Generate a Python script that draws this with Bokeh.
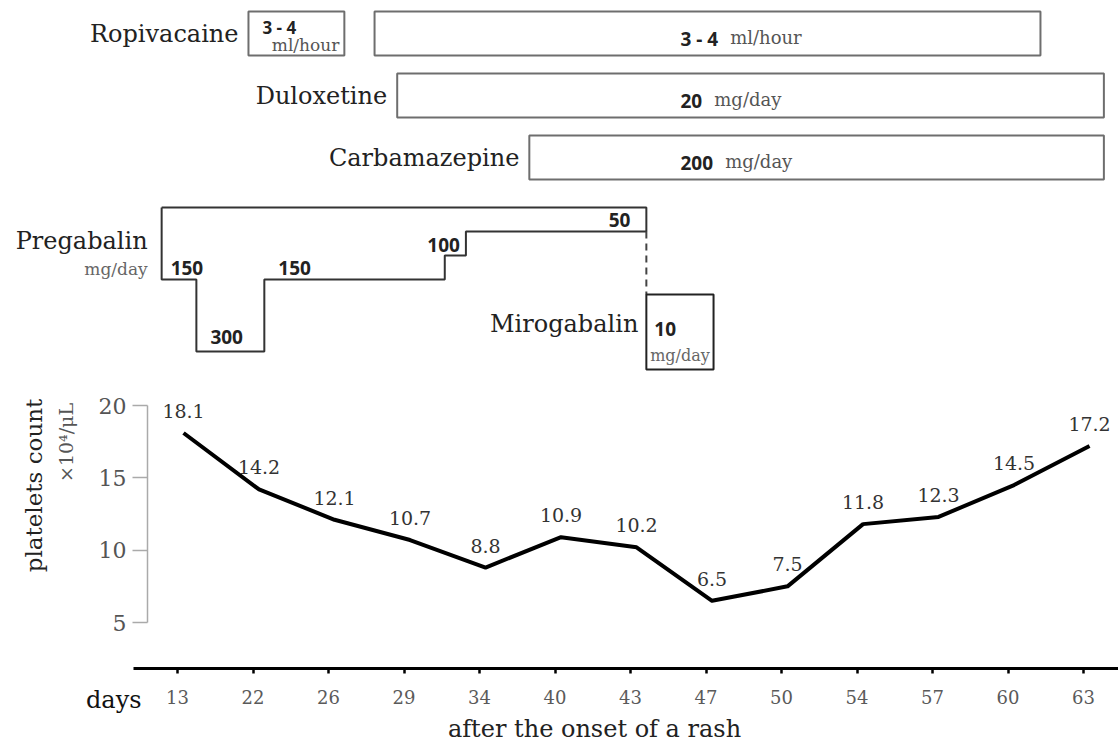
import math
from bokeh.plotting import figure
from bokeh.models import Range1d, FixedTicker, Label, LinearAxis, Grid
from bokeh.core.properties import value
from bokeh.embed import file_html
from bokeh.resources import INLINE

# ------------------------------------------------------------------ data
days = [13, 22, 26, 29, 34, 40, 43, 47, 50, 54, 57, 60, 63]
platelets = [18.1, 14.2, 12.1, 10.7, 8.8, 10.9, 10.2, 6.5, 7.5, 11.8, 12.3, 14.5, 17.2]
y_ticks = [5, 10, 15, 20]

# treatment periods, expressed in positions along the day axis (slot units)
ropivacaine_start = [0.94, 2.61]
ropivacaine_end = [2.21, 11.43]
ropivacaine_dose = "3 - 4"
ropivacaine_unit = "ml/hour"

duloxetine_start = [2.91]
duloxetine_end = [12.27]
duloxetine_dose = "20"
duloxetine_unit = "mg/day"

carbamazepine_start = [4.66]
carbamazepine_end = [12.27]
carbamazepine_dose = "200"
carbamazepine_unit = "mg/day"

pregabalin_start = [-0.21, 0.25, 1.15, 3.54, 3.82]
pregabalin_end = [0.25, 1.15, 3.54, 3.82, 6.21]
pregabalin_dose = [150, 300, 150, 100, 50]

mirogabalin_start = [6.21]
mirogabalin_end = [7.10]
mirogabalin_dose = "10"

# ------------------------------------------------------------------ layout helpers
W, H = 1118, 747
AXIS_X_PX, AXIS_Y_PX, AXIS_X0_PX = 147, 668, 133
SLOT_PX = 75.5      # px per day slot
SLOT0_PX = 177      # px of first slot
UNIT_PX = 14.467    # px per platelet unit
Y20_PX = 405
ROW_PX = 62.0
ROW0_PX = 33

def xd(px):
    return (px - SLOT0_PX) / SLOT_PX

def xp(x):
    return SLOT0_PX + SLOT_PX * x

def yd(py):
    return 20 - (py - Y20_PX) / UNIT_PX

def rd(py):
    return (py - ROW0_PX) / ROW_PX

def rp(r):
    return ROW0_PX + ROW_PX * r

SERIF = "DejaVu Serif"
SANS = "Open Sans"

p = figure(width=W, height=H, output_backend="svg", toolbar_location=None,
           x_range=Range1d(xd(0), xd(W)), y_range=Range1d(yd(H), yd(0)),
           x_axis_location=None, y_axis_location=None,
           min_border_left=0, min_border_right=0, min_border_top=0,
           min_border_bottom=0, outline_line_color=None)
p.extra_y_ranges = {"sched": Range1d(start=rd(H), end=rd(0))}
p.center = [r for r in p.center if not isinstance(r, Grid)]


def clabel(px, py, text, size, color, align="left", angle=0.0, font=SERIF, style="normal"):
    p.add_layout(Label(x=px, y=py, x_units="canvas", y_units="canvas", text=text,
                       angle=angle, text_align=align, text_baseline="middle",
                       text_font=font, text_font_style=style, text_font_size=size,
                       text_color=color))

# x axis (drawn at a fixed position inside the plotting area)
xa = LinearAxis(fixed_location=yd(AXIS_Y_PX), bounds=(xd(AXIS_X0_PX), xd(W)))
xa.ticker = FixedTicker(ticks=list(range(len(days))))
xa.major_label_overrides = {i: str(d) for i, d in enumerate(days)}
xa.minor_tick_line_color = None
xa.axis_line_width = 3
xa.axis_line_color = "black"
xa.major_tick_line_width = 2.5
xa.major_tick_line_color = "black"
xa.major_tick_out = 5
xa.major_tick_in = 0
xa.major_label_text_font = SERIF
xa.major_label_text_font_size = "18px"
xa.major_label_text_color = "#5a5a5a"
xa.major_label_standoff = 16
p.add_layout(xa, "below")

# y axis
ya = LinearAxis(fixed_location=xd(AXIS_X_PX), bounds=(5, 20))
ya.ticker = FixedTicker(ticks=y_ticks)
ya.axis_line_color = "#aaaaaa"
ya.axis_line_width = 1.5
ya.major_tick_line_color = "#aaaaaa"
ya.major_tick_line_width = 1.5
ya.major_tick_out = 15
ya.major_tick_in = 0
ya.minor_tick_line_color = None
ya.major_label_text_font = SERIF
ya.major_label_text_font_size = "22px"
ya.major_label_text_color = "#555555"
ya.major_label_standoff = 6
p.add_layout(ya, "left")

clabel(33, 485, "platelets count", "23px", "#222222", align="center", angle=math.pi / 2)
clabel(65, 442, "\u00d710\u2074/\u03bcL", "19px", "#555555", align="center", angle=math.pi / 2)
clabel(141, 699, "days", "24px", "#111111", align="right")
clabel(594, 728, "after the onset of a rash", "24px", "#222222", align="center")

# ------------------------------------------------------------------ platelet line
xs = [i + 0.08 for i in range(len(days))]
p.line(xs, platelets, line_width=4, line_color="black", line_join="round")
p.text(xs, platelets, text=[str(v) for v in platelets], text_align="center",
       text_baseline="middle", y_offset=-22, text_font=value(SERIF),
       text_font_size="19px", text_color="#333333")

# ------------------------------------------------------------------ drug boxes
BOX_H = 0.355
DOSE_TEXT_X = xd(680)

def num_width(txt):
    return sum(10.9 if c.isdigit() else (4.9 if c == " " else 6.1) for c in txt)

bars = [
    ("Ropivacaine", ropivacaine_start, ropivacaine_end, 0, ropivacaine_dose, ropivacaine_unit),
    ("Duloxetine", duloxetine_start, duloxetine_end, 1, duloxetine_dose, duloxetine_unit),
    ("Carbamazepine", carbamazepine_start, carbamazepine_end, 2, carbamazepine_dose, carbamazepine_unit),
]
for name, st, en, row, dose, unit in bars:
    n = len(st)
    p.quad(left=st, right=en, top=[row - BOX_H] * n, bottom=[row + BOX_H] * n,
           y_range_name="sched", fill_color=None, line_color="#6e6e6e", line_width=2)
    clabel(xp(st[0]) - 10, rp(row), name, "24px", "#222222", align="right")
    p.text([DOSE_TEXT_X], [row], text=[dose], y_range_name="sched", y_offset=5,
           text_align="left", text_baseline="middle", text_font=value(SANS),
           text_font_style="bold", text_font_size="19px", text_color="#222222")
    p.text([DOSE_TEXT_X], [row], text=[unit], y_range_name="sched", y_offset=4,
           x_offset=num_width(dose) + 12, text_align="left", text_baseline="middle",
           text_font=value(SERIF), text_font_size="18px", text_color="#555555")
    if n > 1:
        # first short box with stacked label
        p.text([st[0]], [row], text=[dose], y_range_name="sched", x_offset=14, y_offset=-6,
               text_align="left", text_baseline="middle", text_font=value(SANS),
               text_font_style="bold", text_font_size="17px", text_color="#222222")
        p.text([en[0]], [row], text=[unit], y_range_name="sched", x_offset=-5, y_offset=11,
               text_align="right", text_baseline="middle", text_font=value(SERIF),
               text_font_size="17px", text_color="#555555")

# ------------------------------------------------------------------ pregabalin steps
PREG_TOP = rd(207)
DOSE_SCALE = 0.48 / ROW_PX   # rows per mg

def depth(d):
    return PREG_TOP + d * DOSE_SCALE

px_ = [pregabalin_start[0], pregabalin_end[-1]]
py_ = [PREG_TOP, PREG_TOP]
for s, e, d in reversed(list(zip(pregabalin_start, pregabalin_end, pregabalin_dose))):
    px_ += [e, s]
    py_ += [depth(d), depth(d)]
px_.append(pregabalin_start[0])
py_.append(PREG_TOP)
p.line(px_, py_, y_range_name="sched", line_width=2, line_color="#333333")

align = ["left", "left", "left", "right", "right"]
xoff = [9, 14, 14, -6, -16]
yoff = [-12, -15, -12, -11, -12]
for s, e, d, al, xo, yo in zip(pregabalin_start, pregabalin_end, pregabalin_dose, align, xoff, yoff):
    p.text([s if al == "left" else e], [depth(d)], text=[str(d)], y_range_name="sched",
           x_offset=xo, y_offset=yo, text_align=al, text_baseline="middle",
           text_font=value(SANS), text_font_style="bold", text_font_size="19px",
           text_color="#222222")

clabel(xp(pregabalin_start[0]) - 14, 240, "Pregabalin", "24px", "#222222", align="right")
clabel(xp(pregabalin_start[0]) - 14, 268, "mg/day", "17px", "#666666", align="right")

# ------------------------------------------------------------------ mirogabalin
MIRO_TOP = rd(294)
MIRO_BOT = rd(369)
p.segment(x0=[pregabalin_end[-1]], y0=[depth(pregabalin_dose[-1])], x1=[mirogabalin_start[0]],
          y1=[MIRO_TOP], y_range_name="sched", line_width=2, line_color="#444444",
          line_dash="7 5")
p.quad(left=mirogabalin_start, right=mirogabalin_end, top=[MIRO_TOP], bottom=[MIRO_BOT],
       y_range_name="sched", fill_color=None, line_color="#222222", line_width=2)
p.text([mirogabalin_start[0]], [rd(328)], text=[mirogabalin_dose], y_range_name="sched",
       x_offset=8, text_align="left", text_baseline="middle", text_font=value(SANS),
       text_font_style="bold", text_font_size="19px", text_color="#222222")
p.text([(mirogabalin_start[0] + mirogabalin_end[0]) / 2], [rd(355)], text=["mg/day"],
       y_range_name="sched", text_align="center", text_baseline="middle",
       text_font=value(SERIF), text_font_size="16px", text_color="#666666")
clabel(xp(mirogabalin_start[0]) - 8, 323, "Mirogabalin", "24px", "#222222", align="right")

open("out.html", "w").write(file_html(p, INLINE))
